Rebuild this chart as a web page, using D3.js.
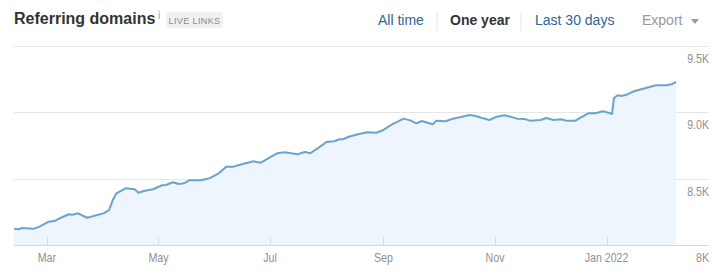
<!DOCTYPE html>
<html>
<head>
<meta charset="utf-8">
<script src="https://cdn.jsdelivr.net/npm/d3@7"></script>
<style>
  body { margin: 0; background: #fff; }
  svg text { font-family: Arial, "Liberation Sans", sans-serif; }
  .tick-lbl { font-size: 12.5px; fill: #8f8f8f; }
</style>
</head>
<body>
<div id="chart"></div>
<script>
// referring domains, one year
var dates = ["2021-02-11","2021-02-14","2021-02-15","2021-02-22","2021-02-25","2021-03-02","2021-03-05","2021-03-08",
  "2021-03-13","2021-03-15","2021-03-18","2021-03-23","2021-03-28","2021-04-01","2021-04-04","2021-04-06",
  "2021-04-08","2021-04-13","2021-04-18","2021-04-20","2021-04-23","2021-04-28","2021-05-03","2021-05-05",
  "2021-05-09","2021-05-12","2021-05-15","2021-05-18","2021-05-24","2021-05-29","2021-06-03","2021-06-07",
  "2021-06-11","2021-06-16","2021-06-22","2021-06-26","2021-06-30","2021-07-05","2021-07-09","2021-07-16",
  "2021-07-20","2021-07-23","2021-07-27","2021-08-01","2021-08-05","2021-08-08","2021-08-10","2021-08-13",
  "2021-08-17","2021-08-23","2021-08-28","2021-09-01","2021-09-06","2021-09-07","2021-09-12","2021-09-16",
  "2021-09-19","2021-09-22","2021-09-26","2021-09-28","2021-09-30","2021-10-05","2021-10-09","2021-10-14",
  "2021-10-18","2021-10-21","2021-10-25","2021-10-29","2021-11-02","2021-11-06","2021-11-08","2021-11-13",
  "2021-11-17","2021-11-20","2021-11-26","2021-11-29","2021-12-03","2021-12-07","2021-12-10","2021-12-15",
  "2021-12-18","2021-12-22","2021-12-26","2021-12-30","2022-01-02","2022-01-04","2022-01-05","2022-01-07",
  "2022-01-09","2022-01-12","2022-01-16","2022-01-21","2022-01-25","2022-01-28","2022-02-03","2022-02-06",
  "2022-02-08"];
var domains = [8123,8118,8128,8123,8138,8175,8180,8201,
  8231,8228,8238,8205,8223,8238,8263,8338,
  8389,8426,8419,8393,8406,8419,8449,8451,
  8472,8459,8464,8487,8487,8502,8539,8589,
  8589,8609,8629,8619,8652,8690,8697,8682,
  8699,8690,8727,8775,8780,8795,8795,8814,
  8829,8847,8844,8865,8910,8915,8950,8935,
  8915,8932,8915,8908,8935,8930,8950,8965,
  8978,8972,8955,8940,8965,8975,8970,8950,
  8948,8935,8940,8955,8940,8945,8935,8935,
  8960,8990,8990,9005,8995,8985,9103,9126,
  9120,9130,9156,9175,9190,9201,9201,9211,
  9226];
var yTicks = [8000, 8500, 9000, 9500];
var yTickLabels = ["8K", "8.5K", "9.0K", "9.5K"];
var monthTicks = ["2021-03-01","2021-05-01","2021-07-01","2021-09-01","2021-11-01","2022-01-01"];
var monthLabels = ["Mar","May","Jul","Sep","Nov","Jan 2022"];
var ranges = ["All time", "One year", "Last 30 days"];

var width = 727, height = 277;
var parse = d3.timeParse("%Y-%m-%d");

var svg = d3.select("#chart").append("svg")
    .attr("width", width)
    .attr("height", height);

// header
svg.append("text").attr("x", 14).attr("y", 24)
    .attr("font-size", "16px").attr("font-weight", "bold").attr("fill", "#333")
    .text("Referring domains");
svg.append("text").attr("x", 158).attr("y", 19)
    .attr("font-size", "10px").attr("fill", "#999").text("i");
svg.append("rect").attr("x", 166).attr("y", 12).attr("width", 57).attr("height", 16)
    .attr("rx", 2).attr("fill", "#f1f1f1");
svg.append("text").attr("x", 194.5).attr("y", 23.5).attr("text-anchor", "middle")
    .attr("font-size", "9px").attr("letter-spacing", "0.4px").attr("fill", "#8a8a8a")
    .text("LIVE LINKS");

var linkX = [378, 450, 535];
svg.selectAll(".range").data(ranges).enter().append("text")
    .attr("class", "range")
    .attr("x", function(d, i) { return linkX[i]; })
    .attr("y", 25)
    .attr("font-size", "14px")
    .attr("font-weight", function(d, i) { return i === 1 ? "bold" : "normal"; })
    .attr("fill", function(d, i) { return i === 1 ? "#333" : "#2f6596"; })
    .text(function(d) { return d; });
[437, 521].forEach(function(x) {
    svg.append("line").attr("x1", x).attr("x2", x).attr("y1", 12).attr("y2", 31)
        .attr("stroke", "#e6e6e6");
});
svg.append("text").attr("x", 642).attr("y", 25).attr("font-size", "14px").attr("fill", "#999")
    .text("Export");
svg.append("path").attr("d", "M691,19 L699,19 L695,24 Z").attr("fill", "#999");

// scales
var x = d3.scaleTime()
    .domain([parse("2021-02-11"), parse("2022-02-26")])
    .range([14, 709]);
var y = d3.scaleLinear().domain([8000, 9500]).range([245, 45.5]);

var data = dates.map(function(d, i) { return { date: parse(d), value: domains[i] }; });

// grid
svg.selectAll(".grid").data(yTicks).enter().append("line")
    .attr("x1", 14).attr("x2", 709)
    .attr("y1", function(d) { return Math.round(y(d)) + 0.5; })
    .attr("y2", function(d) { return Math.round(y(d)) + 0.5; })
    .attr("stroke", function(d) { return d === 8000 ? "#d8d8d8" : "#e6e6e6"; });

// area + line
var area = d3.area()
    .x(function(d) { return x(d.date); })
    .y0(y(8000))
    .y1(function(d) { return y(d.value); });
var line = d3.line()
    .x(function(d) { return x(d.date); })
    .y(function(d) { return y(d.value); });

svg.append("path").datum(data).attr("d", area).attr("fill", "#eef5fc");
svg.append("path").datum(data).attr("d", line)
    .attr("fill", "none").attr("stroke", "#6aa3ce").attr("stroke-width", 2)
    .attr("stroke-linejoin", "round");

// month ticks
svg.selectAll(".mtick").data(monthTicks).enter().append("line")
    .attr("x1", function(d) { return Math.round(x(parse(d))) + 0.5; })
    .attr("x2", function(d) { return Math.round(x(parse(d))) + 0.5; })
    .attr("y1", 237).attr("y2", 245)
    .attr("stroke", "#dcdcdc");
// labels are squeezed a bit, the original font is a narrow one
svg.selectAll(".mlbl").data(monthTicks).enter().append("text")
    .attr("class", "tick-lbl")
    .attr("transform", function(d) { return "translate(" + x(parse(d)) + ",262) scale(0.85,1)"; })
    .attr("text-anchor", "middle")
    .text(function(d, i) { return monthLabels[i]; });

// y labels
svg.selectAll(".ylbl").data(yTicks).enter().append("text")
    .attr("class", "tick-lbl")
    .attr("transform", function(d) { return "translate(709," + (y(d) + 17) + ") scale(0.85,1)"; })
    .attr("text-anchor", "end")
    .text(function(d, i) { return yTickLabels[i]; });
</script>
</body>
</html>
